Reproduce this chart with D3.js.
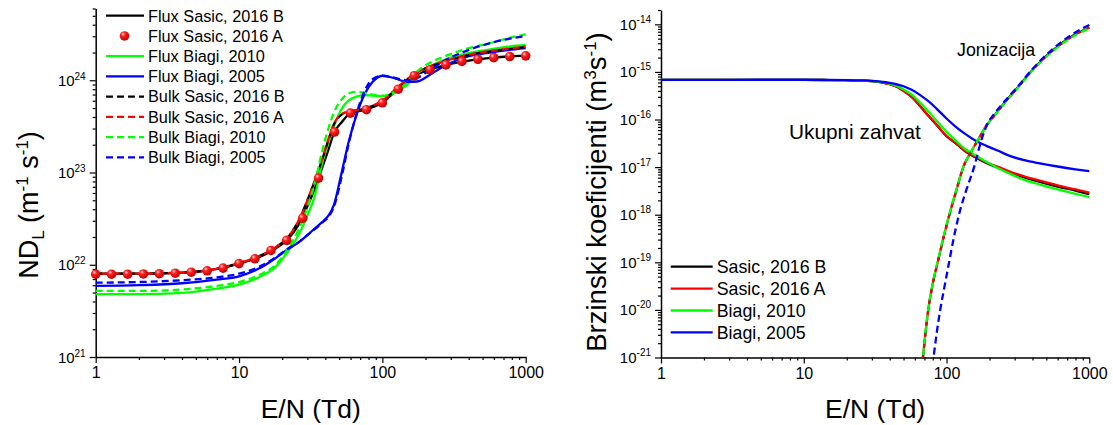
<!DOCTYPE html>
<html><head><meta charset="utf-8">
<script src="https://cdn.jsdelivr.net/npm/d3@7"></script>
<style>
body{margin:0;background:#fff}
svg{display:block}
text{font-family:"Liberation Sans",Arial,sans-serif;fill:#000}
</style>
</head><body>
<svg id="c" width="1113" height="425"></svg>
<script>
// ---------------- DATA ----------------
const xTicks = [1, 10, 100, 1000];
const ndTicks = [1e21, 1e22, 1e23, 1e24];
const ndTickExp = ["21", "22", "23", "24"];
const rateTicks = [1e-21, 1e-20, 1e-19, 1e-18, 1e-17, 1e-16, 1e-15, 1e-14];
const rateTickExp = ["-21", "-20", "-19", "-18", "-17", "-16", "-15", "-14"];

// Left panel: longitudinal diffusion ND_L (m^-1 s^-1)
const ndE = [1,2,4,7,10,14,18,22,26,30,34,38,42,46,52,58,65,75,85,100,120,150,175,215,280,390,550,750,1000];
const fluxSasicB   = [8.0e21,8.0e21,8.2e21,9.0e21,1.03e22,1.22e22,1.5e22,1.9e22,2.7e22,4.3e22,6.9e22,1.12e23,1.76e23,2.7e23,3.5e23,4.25e23,4.55e23,4.75e23,5.1e23,5.7e23,7.3e23,9.8e23,1.16e24,1.3e24,1.47e24,1.62e24,1.74e24,1.81e24,1.85e24];
const fluxBiagi2010 = [4.8e21,4.8e21,4.95e21,5.5e21,6.1e21,7.4e21,9.5e21,1.4e22,2.1e22,3.4e22,5.8e22,1.25e23,2.1e23,3.2e23,4.9e23,6.0e23,6.6e23,6.9e23,6.8e23,6.7e23,7.2e23,9.0e23,1.18e24,1.42e24,1.7e24,1.96e24,2.15e24,2.32e24,2.42e24];
const fluxBiagi2005 = [5.9e21,6.0e21,6.3e21,6.9e21,7.5e21,9.2e21,1.18e22,1.48e22,1.75e22,2.1e22,2.5e22,2.9e22,3.4e22,4.5e22,1.0e23,2.1e23,3.9e23,7.0e23,9.5e23,1.12e24,1.06e24,9.6e23,9.7e23,1.15e24,1.47e24,1.8e24,1.98e24,2.12e24,2.23e24];
const bulkSasicB   = [8.0e21,8.0e21,8.2e21,9.0e21,1.04e22,1.25e22,1.55e22,2.0e22,3.0e22,5.0e22,8.4e22,1.38e23,2.25e23,3.35e23,4.25e23,4.55e23,4.7e23,4.9e23,5.25e23,5.95e23,7.6e23,1.03e24,1.21e24,1.41e24,1.62e24,1.86e24,2.05e24,2.18e24,2.3e24];
const bulkSasicA   = [8.0e21,8.0e21,8.2e21,9.0e21,1.04e22,1.25e22,1.55e22,2.0e22,3.0e22,5.0e22,8.5e22,1.4e23,2.3e23,3.4e23,4.3e23,4.6e23,4.75e23,4.95e23,5.3e23,6.0e23,7.7e23,1.04e24,1.22e24,1.42e24,1.63e24,1.88e24,2.07e24,2.2e24,2.32e24];
const bulkBiagi2010 = [5.2e21,5.2e21,5.4e21,5.9e21,6.5e21,7.8e21,1.0e22,1.5e22,2.4e22,4.2e22,8.0e22,1.7e23,3.0e23,4.5e23,6.2e23,7.2e23,7.5e23,7.3e23,7.0e23,6.8e23,7.4e23,9.6e23,1.25e24,1.55e24,1.85e24,2.2e24,2.5e24,2.85e24,3.15e24];
const bulkBiagi2005 = [6.4e21,6.5e21,6.8e21,7.3e21,8.0e21,9.6e21,1.2e22,1.5e22,1.75e22,2.1e22,2.45e22,2.85e22,3.3e22,4.3e22,9.0e22,2.0e23,4.0e23,7.6e23,1.02e24,1.12e24,1.07e24,1.0e24,1.06e24,1.3e24,1.68e24,2.1e24,2.5e24,2.8e24,3.0e24];
// Flux Sasic 2016 A (symbols)
const dotE = [1,1.29,1.67,2.15,2.78,3.59,4.64,5.99,7.74,10,12.9,16.7,21.5,27.8,35.9,46.4,59.9,77.4,100,129,167,215,278,359,464,599,774,1000];
const fluxSasicA = [7.9e21,7.9e21,7.9e21,7.95e21,8.0e21,8.1e21,8.3e21,8.6e21,9.2e21,1.03e22,1.16e22,1.43e22,1.84e22,3.2e22,8.7e22,2.75e23,4.4e23,4.8e23,5.7e23,8.0e23,1.12e24,1.3e24,1.47e24,1.6e24,1.69e24,1.76e24,1.81e24,1.84e24];

// Right panel: rate coefficients (m^3 s^-1)
const rateE = [1,2,5,10,15,20,25,30,35,40,45,50,57,65,75,85,100,115,135,160,190,230,280,350,450,600,800,1000];
const attSasicB = [6.8e-16,6.8e-16,6.8e-16,6.8e-16,6.75e-16,6.7e-16,6.6e-16,6.4e-16,6.05e-16,5.55e-16,4.9e-16,4.0e-16,3.0e-16,1.95e-16,1.18e-16,7.8e-17,4.45e-17,3.25e-17,2.15e-17,1.6e-17,1.23e-17,9.7e-18,7.7e-18,6.1e-18,4.9e-18,3.9e-18,3.2e-18,2.7e-18];
const attSasicA = [6.8e-16,6.8e-16,6.8e-16,6.8e-16,6.75e-16,6.7e-16,6.6e-16,6.4e-16,6.05e-16,5.55e-16,4.9e-16,4.0e-16,3.0e-16,1.95e-16,1.18e-16,7.9e-17,4.5e-17,3.3e-17,2.2e-17,1.65e-17,1.27e-17,1.01e-17,8.0e-18,6.4e-18,5.2e-18,4.15e-18,3.4e-18,2.9e-18];
const attBiagi2010 = [6.8e-16,6.8e-16,6.8e-16,6.8e-16,6.75e-16,6.7e-16,6.6e-16,6.45e-16,6.15e-16,5.7e-16,5.1e-16,4.3e-16,3.35e-16,2.3e-16,1.45e-16,9.5e-17,5.5e-17,3.7e-17,2.4e-17,1.75e-17,1.3e-17,9.5e-18,7.2e-18,5.4e-18,4.3e-18,3.4e-18,2.75e-18,2.35e-18];
const attBiagi2005 = [6.8e-16,6.8e-16,6.85e-16,6.85e-16,6.8e-16,6.75e-16,6.65e-16,6.5e-16,6.2e-16,5.9e-16,5.5e-16,5.0e-16,4.2e-16,3.3e-16,2.4e-16,1.7e-16,1.05e-16,7.2e-17,5.0e-17,3.6e-17,2.8e-17,2.2e-17,1.7e-17,1.4e-17,1.2e-17,1.03e-17,9.0e-18,8.2e-18];
const ionE = [64,66,68.3,71,74.5,80,86.7,95,104.7,117,131,150,170,190,213,250,317,400,560,750,1000];
const ionSasicB = [2e-22,5e-22,1e-21,3e-21,1e-20,3.5e-20,1e-19,3.2e-19,1e-18,3.2e-18,1e-17,2.2e-17,4.2e-17,7.4e-17,1.14e-16,2.1e-16,4.8e-16,1.1e-15,2.9e-15,5.5e-15,8.6e-15];
const ionSasicA = [2e-22,5e-22,1e-21,3e-21,1e-20,3.5e-20,1e-19,3.2e-19,1e-18,3.2e-18,1e-17,2.2e-17,4.2e-17,7.5e-17,1.15e-16,2.1e-16,4.8e-16,1.1e-15,2.9e-15,5.5e-15,8.6e-15];
const ionBiagi2010 = [2e-22,5e-22,1e-21,3.1e-21,1.05e-20,3.6e-20,1.05e-19,3.3e-19,1.05e-18,3.3e-18,1.0e-17,2.2e-17,4.2e-17,7.4e-17,1.13e-16,2.05e-16,4.7e-16,1.07e-15,2.8e-15,5.3e-15,8.2e-15];
const ionE2005 = [78,81.1,85,90.3,97,104.2,112,122.2,138,156,175,195,213,250,317,400,560,750,1000];
const ionBiagi2005 = [4e-22,1e-21,3e-21,1e-20,3.2e-20,1e-19,3.1e-19,1e-18,3.4e-18,1e-17,3.6e-17,8.5e-17,1.25e-16,2.25e-16,5.0e-16,1.15e-15,3.1e-15,6.0e-15,9.7e-15];

const leftLegend = ["Flux Sasic, 2016 B","Flux Sasic, 2016 A","Flux Biagi, 2010","Flux Biagi, 2005","Bulk Sasic, 2016 B","Bulk Sasic, 2016 A","Bulk Biagi, 2010","Bulk Biagi, 2005"];
const rightLegend = ["Sasic, 2016 B","Sasic, 2016 A","Biagi, 2010","Biagi, 2005"];

// ---------------- DRAW ----------------
const C = {black:"#000000", red:"#ff0000", green:"#00ff00", blue:"#0000ff"};
const DASH = "7,4";
const LW = 2.3;
const svg = d3.select("#c");

const defs = svg.append("defs");
const grad = defs.append("radialGradient").attr("id","ball").attr("cx","0.38").attr("cy","0.35").attr("r","0.65").attr("fx","0.35").attr("fy","0.3");
grad.append("stop").attr("offset","0").attr("stop-color","#ffd0d0");
grad.append("stop").attr("offset","0.35").attr("stop-color","#ff2020");
grad.append("stop").attr("offset","1").attr("stop-color","#c00000");

function minorTicks(lo, hi){
  const out=[];
  for(let e=Math.floor(Math.log10(lo))-1; e<=Math.ceil(Math.log10(hi)); e++){
    for(let m=2;m<10;m++){
      const v = +(m+"e"+e);
      if(v>=lo*0.999 && v<=hi*1.001) out.push(v);
    }
  }
  return out;
}

function panel(opts){
  const {x, y, yMajor, yExp, clipId, expDy} = opts;
  const g = svg.append("g");
  const x0 = x.range()[0], y0 = y.range()[0];
  g.append("g").attr("transform",`translate(0,${y0})`)
    .call(d3.axisBottom(x).tickValues(minorTicks(x.domain()[0], x.domain()[1])).tickSize(3).tickSizeOuter(0).tickFormat(""))
    .call(s=>s.select(".domain").attr("stroke-width",1.5))
    .call(s=>s.selectAll(".tick line").attr("stroke-width",1.2));
  g.append("g").attr("transform",`translate(0,${y0})`)
    .call(d3.axisBottom(x).tickValues(xTicks).tickSize(6).tickSizeOuter(0).tickPadding(4).tickFormat(d=>String(d)))
    .call(s=>s.select(".domain").remove())
    .call(s=>s.selectAll(".tick line").attr("stroke-width",1.2))
    .call(s=>s.selectAll("text").attr("font-size",16).attr("font-family",'"Liberation Sans",Arial,sans-serif'));
  g.append("g").attr("transform",`translate(${x0},0)`)
    .call(d3.axisLeft(y).tickValues(minorTicks(y.domain()[0], y.domain()[1])).tickSize(3).tickSizeOuter(0).tickFormat(""))
    .call(s=>s.select(".domain").attr("stroke-width",1.5))
    .call(s=>s.selectAll(".tick line").attr("stroke-width",1.2));
  g.append("g").attr("transform",`translate(${x0},0)`)
    .call(d3.axisLeft(y).tickValues(yMajor).tickSize(6).tickSizeOuter(0).tickFormat(""))
    .call(s=>s.select(".domain").remove())
    .call(s=>s.selectAll(".tick line").attr("stroke-width",1.2));
  yMajor.forEach((v,i)=>{
    const t = g.append("text").attr("x", x0-10).attr("y", y(v)+5.5).attr("text-anchor","end").attr("font-size",15);
    t.append("tspan").text("10");
    t.append("tspan").attr("font-size",10).attr("dy",expDy).text(yExp[i]);
  });
  defs.append("clipPath").attr("id",clipId).append("rect")
    .attr("x",x0).attr("y",y.range()[1]-2).attr("width",x.range()[1]-x0+3).attr("height",y0-y.range()[1]+2);
  return g.append("g").attr("clip-path",`url(#${clipId})`);
}

function addLine(plot, x, y, xs, ys, color, dashed, offset){
  const pts = xs.map((e,i)=>[e, ys[i]]);
  const line = d3.line().x(d=>x(d[0])).y(d=>y(d[1])).curve(d3.curveMonotoneX);
  plot.append("path").attr("d", line(pts)).attr("fill","none").attr("stroke",color)
    .attr("stroke-width",LW).attr("stroke-dasharray", dashed?DASH:null)
    .attr("stroke-dashoffset", offset||0).attr("stroke-linejoin","round");
}

// ---- Left panel ----
const xL = d3.scaleLog().domain([1,1000]).range([95.7,525.7]);
const yL = d3.scaleLog().domain([1e21,6e24]).range([357,8.5]);
const pL = panel({x:xL, y:yL, yMajor:ndTicks, yExp:ndTickExp, clipId:"clipL", expDy:-6});
addLine(pL,xL,yL,ndE,fluxSasicB,C.black,false);
addLine(pL,xL,yL,ndE,fluxBiagi2010,C.green,false);
addLine(pL,xL,yL,ndE,fluxBiagi2005,C.blue,false);
addLine(pL,xL,yL,ndE,bulkSasicB,C.black,true,0);
addLine(pL,xL,yL,ndE,bulkSasicA,C.red,true,5);
addLine(pL,xL,yL,ndE,bulkBiagi2010,C.green,true,0);
addLine(pL,xL,yL,ndE,bulkBiagi2005,C.blue,true,0);
svg.append("g").selectAll("circle").data(dotE.map((e,i)=>[e,fluxSasicA[i]])).join("circle")
  .attr("cx",d=>xL(d[0])).attr("cy",d=>yL(d[1])).attr("r",4.8).attr("fill","url(#ball)");

const legL = svg.append("g");
const legStyles = [
  {c:C.black,d:false},{c:C.red,dot:true},{c:C.green,d:false},{c:C.blue,d:false},
  {c:C.black,d:true},{c:C.red,d:true},{c:C.green,d:true},{c:C.blue,d:true}];
leftLegend.forEach((lab,i)=>{
  const cy = 15.7 + i*20.23;
  const s = legStyles[i];
  if(s.dot){
    legL.append("circle").attr("cx",124.5).attr("cy",cy).attr("r",4.8).attr("fill","url(#ball)");
  } else {
    legL.append("line").attr("x1",106).attr("x2",144).attr("y1",cy).attr("y2",cy)
      .attr("stroke",s.c).attr("stroke-width",LW).attr("stroke-dasharray",s.d?DASH:null);
  }
  legL.append("text").attr("x",148).attr("y",cy+5.8).attr("font-size",16.3).text(lab);
});

// ---- Right panel ----
const xR = d3.scaleLog().domain([1,1000]).range([661,1089.3]);
const yR = d3.scaleLog().domain([1e-21,2e-14]).range([357.5,10]);
const pR = panel({x:xR, y:yR, yMajor:rateTicks, yExp:rateTickExp, clipId:"clipR", expDy:-7});
addLine(pR,xR,yR,rateE,attSasicB,C.black,false);
addLine(pR,xR,yR,rateE,attSasicA,C.red,false);
addLine(pR,xR,yR,rateE,attBiagi2010,C.green,false);
addLine(pR,xR,yR,rateE,attBiagi2005,C.blue,false);
addLine(pR,xR,yR,ionE,ionSasicB,C.black,true,0);
addLine(pR,xR,yR,ionE,ionSasicA,C.red,true,4);
addLine(pR,xR,yR,ionE,ionBiagi2010,C.green,true,8);
addLine(pR,xR,yR,ionE2005,ionBiagi2005,C.blue,true,0);

const legR = svg.append("g");
[C.black,C.red,C.green,C.blue].forEach((c,i)=>{
  const cy = 266.7 + i*21.9;
  legR.append("line").attr("x1",670.7).attr("x2",712.7).attr("y1",cy).attr("y2",cy).attr("stroke",c).attr("stroke-width",LW);
  legR.append("text").attr("x",716.7).attr("y",cy+6.4).attr("font-size",17.8).text(rightLegend[i]);
});

svg.append("text").attr("x",957).attr("y",56).attr("font-size",17.8).text("Jonizacija");
svg.append("text").attr("x",789).attr("y",139).attr("font-size",20.8).text("Ukupni zahvat");

// ---- Axis titles ----
[xL, xR].forEach(x=>{
  const [a,b] = x.range();
  svg.append("text").attr("x",(a+b)/2).attr("y",418).attr("text-anchor","middle").attr("font-size",26.5).text("E/N (Td)");
});
const tl = svg.append("text").attr("transform","translate(38,205) rotate(-90)").attr("text-anchor","middle").attr("font-size",27);
tl.append("tspan").text("ND");
tl.append("tspan").attr("font-size",17).attr("dy",6).text("L");
tl.append("tspan").attr("dy",-6).text(" (m");
tl.append("tspan").attr("font-size",17).attr("dy",-10).text("-1");
tl.append("tspan").attr("dy",10).text(" s");
tl.append("tspan").attr("font-size",17).attr("dy",-10).text("-1");
tl.append("tspan").attr("dy",10).text(")");

const tr = svg.append("text").attr("transform","translate(606,192) rotate(-90)").attr("text-anchor","middle").attr("font-size",27.5);
tr.append("tspan").text("Brzinski koeficijenti (m");
tr.append("tspan").attr("font-size",17).attr("dy",-10).text("3");
tr.append("tspan").attr("dy",10).text("s");
tr.append("tspan").attr("font-size",17).attr("dy",-10).text("-1");
tr.append("tspan").attr("dy",10).text(")");
</script>
</body></html>
